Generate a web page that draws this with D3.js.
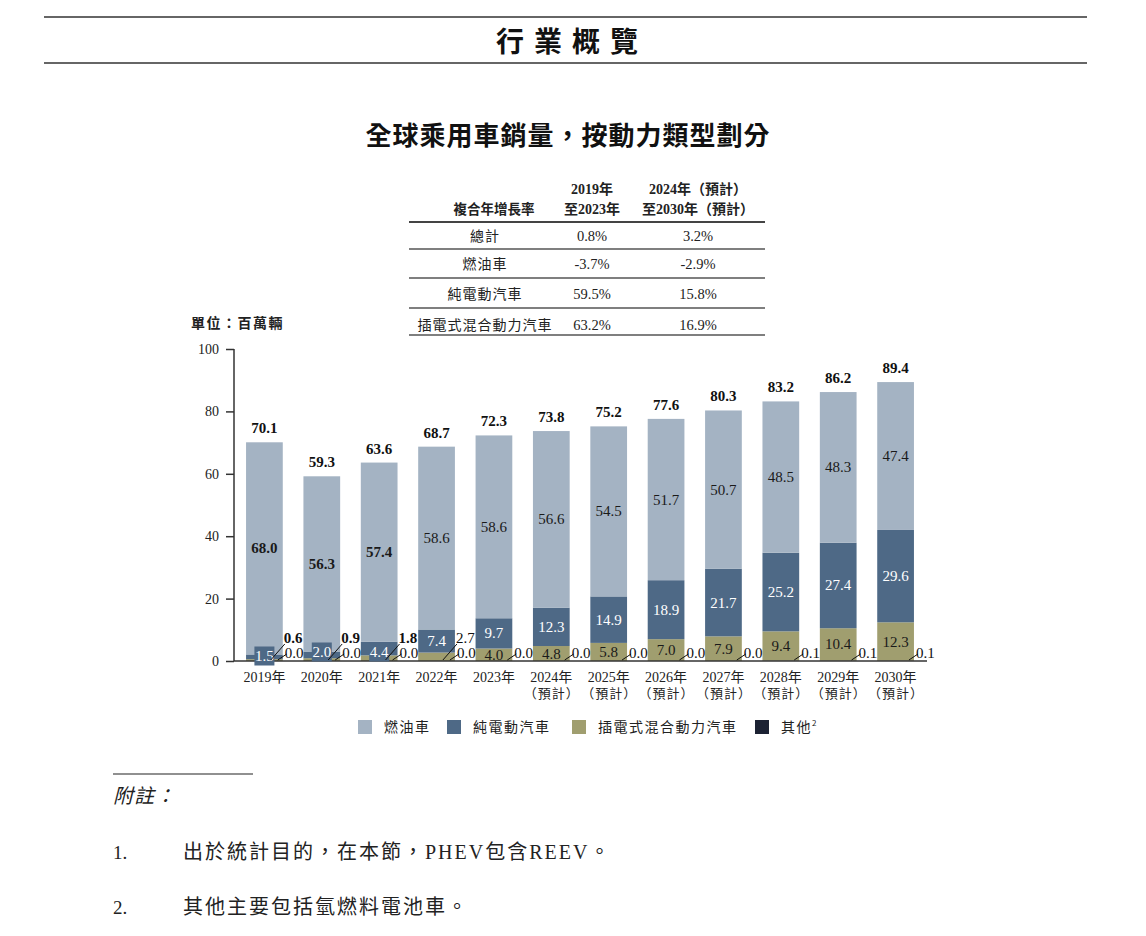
<!DOCTYPE html>
<html><head><meta charset="utf-8">
<script src="https://cdn.jsdelivr.net/npm/d3@7"></script>
<style>
body{margin:0;background:#fff;}
svg{display:block;}
</style></head>
<body>
<script>
const years = ['2019年','2020年','2021年','2022年','2023年','2024年','2025年','2026年','2027年','2028年','2029年','2030年'];
const subLabels = ['','','','','','（預計）','（預計）','（預計）','（預計）','（預計）','（預計）','（預計）'];
const ice   = [68.0,56.3,57.4,58.6,58.6,56.6,54.5,51.7,50.7,48.5,48.3,47.4];
const bev   = [1.5,2.0,4.4,7.4,9.7,12.3,14.9,18.9,21.7,25.2,27.4,29.6];
const phev  = [0.6,0.9,1.8,2.7,4.0,4.8,5.8,7.0,7.9,9.4,10.4,12.3];
const other = [0.0,0.0,0.0,0.0,0.0,0.0,0.0,0.0,0.0,0.1,0.1,0.1];
const totals = [70.1,59.3,63.6,68.7,72.3,73.8,75.2,77.6,80.3,83.2,86.2,89.4];
const yTicks = [0,20,40,60,80,100];
const seriesNames = ['燃油車','純電動汽車','插電式混合動力汽車','其他'];
const cagrHead = ['複合年增長率',['2019年','至2023年'],['2024年（預計）','至2030年（預計）']];
const cagrRows = ['總計','燃油車','純電動汽車','插電式混合動力汽車'];
const cagr1 = ['0.8%','-3.7%','59.5%','63.2%'];
const cagr2 = ['3.2%','-2.9%','15.8%','16.9%'];
const notes = ['出於統計目的，在本節，PHEV包含REEV。','其他主要包括氫燃料電池車。'];

const colors = {ice:'#a4b3c3', bev:'#4e6986', phev:'#a09e6f', other:'#1c2233'};
const SERIF = '"Liberation Serif","Noto Sans CJK TC",serif';
const CJK = '"Liberation Serif","Noto Sans CJK TC",sans-serif';
const SANS = '"Noto Sans CJK TC",sans-serif';
const TXT = '#222';

const W=1146,H=936;
const svg = d3.select('body').append('svg').attr('width',W).attr('height',H);

// header
svg.append('line').attr('x1',44).attr('x2',1087).attr('y1',17).attr('y2',17).attr('stroke','#333').attr('stroke-width',1.5);
svg.append('line').attr('x1',44).attr('x2',1087).attr('y1',63).attr('y2',63).attr('stroke','#333').attr('stroke-width',1.5);
svg.append('text').attr('x',572).attr('y',52).attr('text-anchor','middle').attr('font-family',SANS).attr('font-weight',700)
  .attr('font-size',28).attr('letter-spacing',10).attr('fill','#111').text('行業概覽');
svg.append('text').attr('x',568).attr('y',145).attr('text-anchor','middle').attr('font-family',SANS).attr('font-weight',700)
  .attr('font-size',26).attr('letter-spacing',1).attr('fill','#111').text('全球乘用車銷量，按動力類型劃分');

// table
const tb = svg.append('g');
const c0=485,c1=592,c2=698;
tb.append('text').attr('x',494).attr('y',214).attr('text-anchor','middle').attr('font-family',SANS).attr('font-weight',700).attr('font-size',13.5).attr('fill',TXT).text(cagrHead[0]);
[[c1,cagrHead[1]],[c2,cagrHead[2]]].forEach(([cx,ls])=>{
  ls.forEach((t,i)=>tb.append('text').attr('x',cx).attr('y',194+i*20).attr('text-anchor','middle').attr('font-family',CJK).attr('font-weight',700).attr('font-size',14).attr('fill',TXT).text(t));
});
tb.append('line').attr('x1',409).attr('x2',765).attr('y1',222).attr('y2',222).attr('stroke','#444').attr('stroke-width',2);
const rowLines=[249,278,308,335], rowY=[241,269,299,330];
cagrRows.forEach((r,i)=>{
  tb.append('text').attr('x',c0).attr('y',rowY[i]).attr('text-anchor','middle').attr('font-family',SANS).attr('font-size',14).attr('letter-spacing',1).attr('fill',TXT).text(r);
  tb.append('text').attr('x',c1).attr('y',rowY[i]).attr('text-anchor','middle').attr('font-family',SERIF).attr('font-size',14.5).attr('fill',TXT).text(cagr1[i]);
  tb.append('text').attr('x',c2).attr('y',rowY[i]).attr('text-anchor','middle').attr('font-family',SERIF).attr('font-size',14.5).attr('fill',TXT).text(cagr2[i]);
  tb.append('line').attr('x1',409).attr('x2',765).attr('y1',rowLines[i]).attr('y2',rowLines[i]).attr('stroke','#555').attr('stroke-width',1.3);
});

// unit
svg.append('text').attr('x',191).attr('y',328).attr('font-family',SANS).attr('font-weight',700).attr('font-size',14).attr('letter-spacing',1.5).attr('fill',TXT).text('單位：百萬輛');

// scales
const x = d3.scaleBand().domain(years).range([234,926]).paddingInner(0.36).paddingOuter(0.21);
const y = d3.scaleLinear().domain([0,100]).range([661,349]);

// y axis
const ya = svg.append('g').attr('transform','translate(234,0)')
  .call(d3.axisLeft(y).tickValues(yTicks).tickSize(8).tickPadding(7));
ya.select('.domain').attr('stroke','#333').attr('stroke-width',1.5).attr('d','M0,349V661');
ya.selectAll('.tick line').attr('stroke','#333').attr('stroke-width',1.5);
ya.selectAll('.tick text').attr('font-family',SERIF).attr('font-size',14).attr('fill',TXT);

// stacks
const rows = years.map((yr,i)=>({yr,i,ice:ice[i],bev:bev[i],phev:phev[i],other:other[i]}));
const keys = ['other','phev','bev','ice'];
const stack = d3.stack().keys(keys)(rows);
const bars = svg.append('g');
stack.forEach(s=>{
  bars.selectAll(null).data(s).join('rect')
    .attr('x',d=>x(d.data.yr)).attr('width',x.bandwidth())
    .attr('y',d=>y(d[1])).attr('height',d=>Math.max(0,y(d[0])-y(d[1])))
    .attr('fill',colors[s.key]);
});

// baseline
svg.append('line').attr('x1',234).attr('x2',927).attr('y1',661).attr('y2',661).attr('stroke','#333').attr('stroke-width',1.5);

const lab = svg.append('g').attr('font-family',SERIF).attr('font-size',15);
rows.forEach((d,i)=>{
  const xl = x(d.yr), bw = x.bandwidth(), cx = xl+bw/2, xr = xl+bw;
  const b0 = d.other, s1 = b0+d.phev, s2 = s1+d.bev, s3 = s2+d.ice;
  // total
  lab.append('text').attr('x',cx).attr('y',y(totals[i])-9).attr('text-anchor','middle').attr('font-weight',700).attr('fill','#111').text(totals[i].toFixed(1));
  // ice
  lab.append('text').attr('x',cx).attr('y',(y(s2)+y(s3))/2+5).attr('text-anchor','middle')
    .attr('font-weight',i<3?700:400).attr('fill','#1a1a1a').text(d.ice.toFixed(1));
  // bev
  const bh = y(s1)-y(s2);
  let by = (y(s1)+y(s2))/2;
  if(bh<16){
    by = i===0 ? 656 : 652;
    lab.append('rect').attr('x',cx-10).attr('y',by-9.5).attr('width',20).attr('height',19).attr('fill',colors.bev);
  }
  lab.append('text').attr('x',cx).attr('y',by+5).attr('text-anchor','middle').attr('fill','#fff').text(d.bev.toFixed(1));
  // phev
  if(i<4){
    lab.append('line').attr('x1',xr-12).attr('y1',660).attr('x2',xr+2).attr('y2',644).attr('stroke','#111').attr('stroke-width',1);
    lab.append('text').attr('x',xr+1).attr('y',643).attr('font-weight',i<3?700:400).attr('fill','#111').text(d.phev.toFixed(1));
  } else {
    lab.append('text').attr('x',cx).attr('y',(y(b0)+y(s1))/2+5).attr('text-anchor','middle').attr('fill','#1a1a1a').text(d.phev.toFixed(1));
  }
  // other
  lab.append('line').attr('x1',xr-5).attr('y1',660).attr('x2',xr+4).attr('y2',654).attr('stroke','#111').attr('stroke-width',1);
  lab.append('text').attr('x',xr+2).attr('y',658).attr('fill','#111').text(d.other.toFixed(1));
  // x labels
  svg.append('text').attr('x',cx).attr('y',682).attr('text-anchor','middle').attr('font-family',CJK).attr('font-size',14).attr('fill',TXT).text(d.yr);
  if(subLabels[i]) svg.append('text').attr('x',cx+0.5).attr('y',698).attr('text-anchor','middle').attr('font-family',SANS).attr('font-size',13).attr('letter-spacing',1).attr('fill',TXT).text(subLabels[i]);
});

// legend
const lg = svg.append('g');
const legX=[358,447,572,755];
const lcols=[colors.ice,colors.bev,colors.phev,colors.other];
seriesNames.forEach((n,i)=>{
  lg.append('rect').attr('x',legX[i]).attr('y',720).attr('width',14).attr('height',14).attr('fill',lcols[i]);
  const t = lg.append('text').attr('x',legX[i]+26).attr('y',732).attr('font-family',SANS).attr('font-size',14).attr('letter-spacing',1.5).attr('fill',TXT).text(n);
  if(i===3) t.append('tspan').attr('font-size',8).attr('dy',-6).text('2');
});

// notes
svg.append('line').attr('x1',113).attr('x2',253).attr('y1',774).attr('y2',774).attr('stroke','#222').attr('stroke-width',1.2);
svg.append('text').attr('x',113).attr('y',803).attr('font-family',SANS).attr('font-style','italic').attr('font-size',20).attr('letter-spacing',1).attr('fill',TXT).text('附註：');
notes.forEach((n,i)=>{
  svg.append('text').attr('x',113).attr('y',859+i*55).attr('font-family',SERIF).attr('font-size',19).attr('fill',TXT).text((i+1)+'.');
  svg.append('text').attr('x',183).attr('y',859+i*55).attr('font-family',CJK).attr('font-size',20).attr('letter-spacing',2).attr('fill',TXT).text(n);
});
</script>
</body></html>
